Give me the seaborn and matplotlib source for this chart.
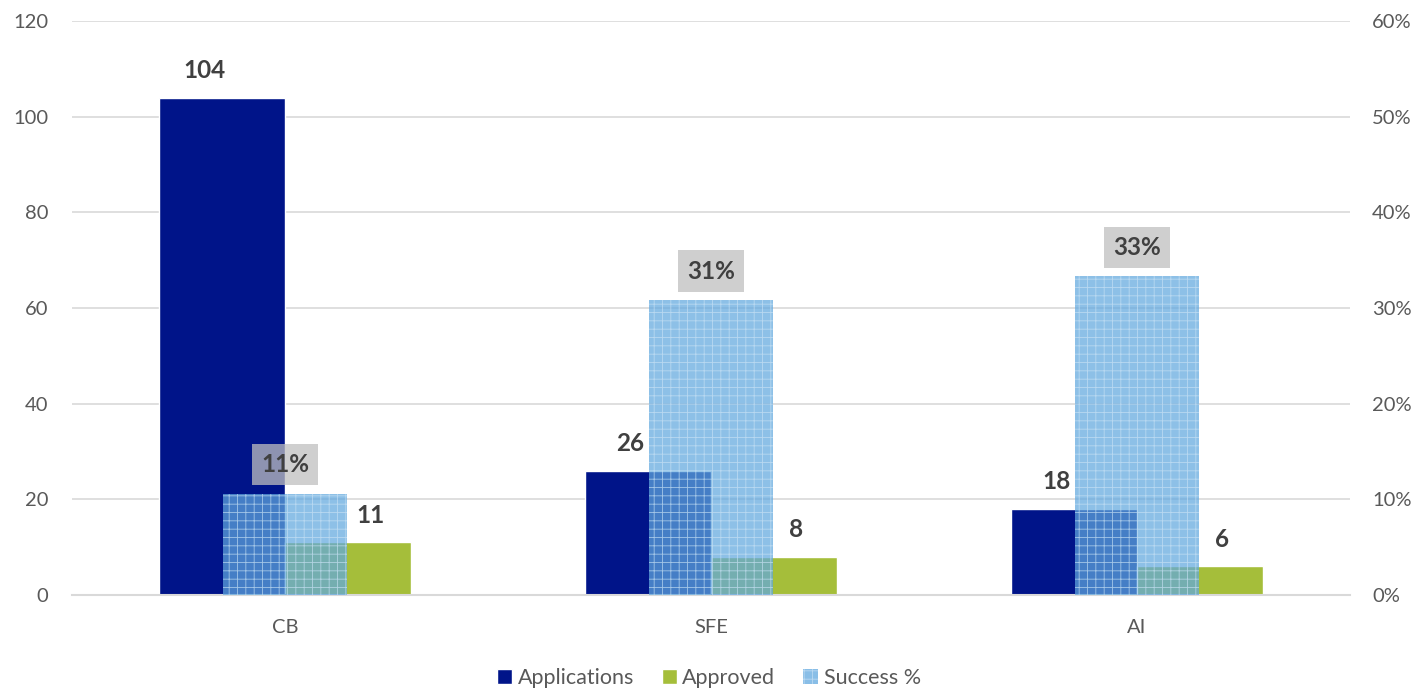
import matplotlib
matplotlib.use("Agg")
import matplotlib.pyplot as plt
import seaborn as sns
import pandas as pd
from matplotlib.patches import Patch
from matplotlib.ticker import PercentFormatter, MultipleLocator

categories = ["CB", "SFE", "AI"]
applications = [104, 26, 18]
approved = [11, 8, 6]
success_pct = [0.106, 0.308, 0.333]
success_labels = ["11%", "31%", "33%"]
series_names = ["Applications", "Approved", "Success %"]

c_app = "#001489"
c_appr = "#A5BE3A"
c_succ = "#61A8DF"
text_dark = "#404040"
tick_col = "#595959"
grid_col = "#D9D9D9"

sns.set_theme(style="white")
plt.rcParams["font.family"] = ["Lato", "DejaVu Sans"]
plt.rcParams["hatch.linewidth"] = 0.6

df = pd.DataFrame({
    "cat": categories * 2,
    "value": applications + approved,
    "series": [series_names[0]] * 3 + [series_names[1]] * 3,
})

fig = plt.figure(figsize=(14.18, 6.91), dpi=100)
ax = fig.add_axes([72 / 1418, 1 - 595 / 691, (1350 - 72) / 1418, (595 - 21) / 691])

sns.barplot(data=df, x="cat", y="value", hue="series", order=categories,
            hue_order=series_names[:2], palette=[c_app, c_appr], width=0.59,
            ax=ax, legend=False, saturation=1, errorbar=None)
ax.set_ylim(0, 120)
ax.yaxis.set_major_locator(MultipleLocator(20))
ax.grid(axis="y", color=grid_col, linewidth=1.2)
ax.set_axisbelow(True)
for s in ["top", "right", "left"]:
    ax.spines[s].set_visible(False)
ax.spines["bottom"].set_color(grid_col)
ax.spines["bottom"].set_linewidth(1.5)
ax.set_xlabel("")
ax.set_ylabel("")
ax.tick_params(axis="both", length=0, labelsize=14.5, labelcolor=tick_col)
ax.tick_params(axis="y", pad=17)
ax.tick_params(axis="x", pad=17)

# data labels for primary bars
offsets = [-13, 16]
for cont, dx in zip(ax.containers, offsets):
    for bar in cont:
        h = bar.get_height()
        ax.annotate(f"{h:.0f}", (bar.get_x() + bar.get_width() / 2, h),
                    xytext=(dx, 19.5), textcoords="offset points",
                    ha="center", va="center", fontsize=17.5, fontweight="bold",
                    color=text_dark)

ax2 = ax.twinx()
sns.barplot(x=categories, y=success_pct, order=categories, color=c_succ,
            width=0.29, ax=ax2, saturation=1, errorbar=None)
for bar in ax2.patches:
    bar.set_alpha(0.72)
    bar.set_edgecolor("#C9E2F5")
    bar.set_linewidth(0)
    bar.set_hatch("++")
ax2.set_ylim(0, 0.6)
ax2.yaxis.set_major_locator(MultipleLocator(0.1))
ax2.yaxis.set_major_formatter(PercentFormatter(1.0, decimals=0))
for s in ["top", "right", "left", "bottom"]:
    ax2.spines[s].set_visible(False)
ax2.tick_params(axis="y", length=0, labelsize=14.5, labelcolor=tick_col, pad=16)
ax2.set_ylabel("")
ax2.set_xlabel("")

for bar, lab in zip(ax2.patches, success_labels):
    h = bar.get_height()
    ax2.annotate(lab, (bar.get_x() + bar.get_width() / 2, h),
                 xytext=(0, 21), textcoords="offset points",
                 ha="center", va="center", fontsize=17.5, fontweight="bold",
                 color=text_dark,
                 bbox=dict(boxstyle="square,pad=0.38", facecolor="#BFBFBF",
                           edgecolor="none", alpha=0.75))

handles = [Patch(facecolor=c_app), Patch(facecolor=c_appr),
           Patch(facecolor=c_succ, alpha=0.75, hatch="++", edgecolor="#C9E2F5", linewidth=0)]
fig.legend(handles, series_names, loc="center", bbox_to_anchor=(0.5, 1 - 678 / 691),
           ncol=3, frameon=False, fontsize=15.5, labelcolor=tick_col,
           handlelength=0.7, handleheight=0.7, handletextpad=0.25, columnspacing=1.3)

fig.savefig("out.png", dpi=100)
